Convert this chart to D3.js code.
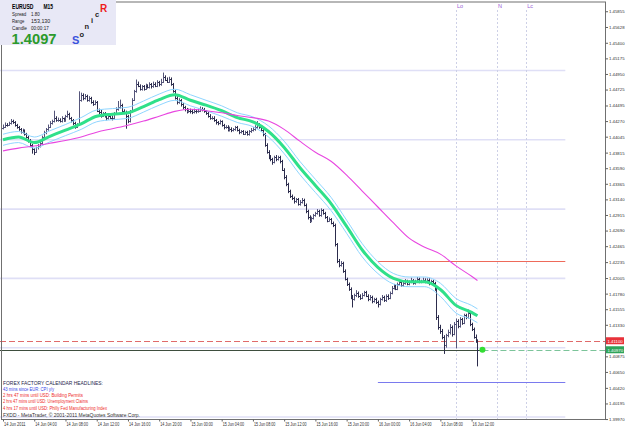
<!DOCTYPE html>
<html>
<head>
<meta charset="utf-8">
<script src="https://cdn.jsdelivr.net/npm/d3@7"></script>
<style>
  body { margin: 0; background: #fff; }
  svg { display: block; }
  text { font-family: "Liberation Sans", Arial, sans-serif; }
</style>
</head>
<body>
<svg id="chart" width="625" height="429"></svg>
<script>
/////////////////////////////////////////////////////////////////////////////////////
// Data (EURUSD M15, first bar 14 Jun 2011 00:00)
var firstBar = "2011-06-14 00:00";
var firstOpen = 1.4417;
var close = [
  1.4419,1.4422,1.4421,1.4424, 1.4427,1.4425,1.4421,1.4418, 1.4415,1.4411,1.4414,1.4408, 1.4404,1.4399,1.4392,1.4386,
  1.4383,1.4389,1.4391,1.4395, 1.4404,1.4411,1.4415,1.4419, 1.4424,1.4427,1.4432,1.4428, 1.4429,1.4427,1.4431,1.4428,
  1.4434,1.4437,1.4431,1.4428, 1.4424,1.4419,1.4422,1.4458, 1.4464,1.4460,1.4463,1.4457, 1.4460,1.4455,1.4452,1.4454,
  1.4442,1.4440,1.4435,1.4438, 1.4434,1.4431,1.4435,1.4432, 1.4431,1.4438,1.4444,1.4447, 1.4450,1.4442,1.4440,1.4434,
  1.4427,1.4441,1.4458,1.4470, 1.4481,1.4478,1.4473,1.4477, 1.4474,1.4478,1.4476,1.4480, 1.4477,1.4481,1.4478,1.4483,
  1.4480,1.4484,1.4491,1.4487, 1.4484,1.4488,1.4480,1.4470, 1.4461,1.4454,1.4457,1.4451, 1.4447,1.4444,1.4441,1.4442,
  1.4441,1.4440,1.4442,1.4441, 1.4442,1.4445,1.4444,1.4441, 1.4438,1.4435,1.4431,1.4432, 1.4428,1.4425,1.4424,1.4427,
  1.4421,1.4418,1.4419,1.4415, 1.4416,1.4414,1.4415,1.4418, 1.4414,1.4411,1.4412,1.4409, 1.4411,1.4408,1.4412,1.4414,
  1.4415,1.4418,1.4422,1.4418, 1.4414,1.4408,1.4393,1.4383, 1.4375,1.4372,1.4368,1.4375, 1.4372,1.4375,1.4369,1.4357,
  1.4346,1.4336,1.4326,1.4319, 1.4316,1.4311,1.4314,1.4307, 1.4310,1.4313,1.4306,1.4297, 1.4288,1.4283,1.4287,1.4291,
  1.4294,1.4297,1.4291,1.4298, 1.4294,1.4288,1.4283,1.4285, 1.4280,1.4277,1.4249,1.4225, 1.4219,1.4222,1.4211,1.4199,
  1.4192,1.4185,1.4173,1.4170, 1.4176,1.4179,1.4175,1.4172, 1.4176,1.4180,1.4175,1.4170, 1.4173,1.4167,1.4170,1.4166,
  1.4163,1.4170,1.4173,1.4169, 1.4175,1.4172,1.4179,1.4186, 1.4189,1.4185,1.4192,1.4195, 1.4190,1.4193,1.4196,1.4192,
  1.4195,1.4198,1.4193,1.4196, 1.4199,1.4195,1.4196,1.4198, 1.4195,1.4198,1.4193,1.4196, 1.4193,1.4185,1.4144,1.4130,
  1.4124,1.4116,1.4104,1.4118, 1.4123,1.4130,1.4120,1.4134, 1.4139,1.4131,1.4141,1.4136, 1.4147,1.4144,1.4150,1.4134,
  1.4127,1.4116,1.4110,1.4097
];
var high = [
  1.4422,1.4425,1.4424,1.4426, 1.4430,1.4429,1.4427,1.4423, 1.4420,1.4417,1.4416,1.4415, 1.4410,1.4406,1.4401,1.4394,
  1.4388,1.4390,1.4394,1.4397, 1.4406,1.4413,1.4417,1.4422, 1.4427,1.4429,1.4442,1.4434, 1.4432,1.4431,1.4434,1.4432,
  1.4436,1.4442,1.4439,1.4433, 1.4430,1.4426,1.4424,1.4470, 1.4468,1.4467,1.4466,1.4465, 1.4463,1.4462,1.4457,1.4457,
  1.4456,1.4445,1.4443,1.4440, 1.4440,1.4436,1.4437,1.4437, 1.4435,1.4440,1.4447,1.4456, 1.4458,1.4452,1.4444,1.4442,
  1.4436,1.4443,1.4460,1.4472, 1.4487,1.4484,1.4480,1.4479, 1.4479,1.4481,1.4480,1.4483, 1.4482,1.4484,1.4483,1.4486,
  1.4485,1.4488,1.4497,1.4493, 1.4490,1.4491,1.4490,1.4482, 1.4472,1.4463,1.4460,1.4459, 1.4453,1.4449,1.4446,1.4445,
  1.4445,1.4444,1.4445,1.4444, 1.4445,1.4448,1.4447,1.4446, 1.4443,1.4440,1.4437,1.4434, 1.4434,1.4430,1.4427,1.4429,
  1.4428,1.4423,1.4421,1.4421, 1.4419,1.4418,1.4417,1.4420, 1.4420,1.4416,1.4414,1.4414, 1.4413,1.4413,1.4414,1.4417,
  1.4418,1.4421,1.4427,1.4424, 1.4420,1.4416,1.4410,1.4395, 1.4385,1.4378,1.4374,1.4377, 1.4378,1.4377,1.4377,1.4371,
  1.4359,1.4349,1.4338,1.4328, 1.4321,1.4318,1.4316,1.4316, 1.4313,1.4316,1.4315,1.4308, 1.4299,1.4291,1.4289,1.4293,
  1.4296,1.4300,1.4299,1.4301, 1.4300,1.4296,1.4290,1.4288, 1.4287,1.4282,1.4279,1.4251, 1.4228,1.4225,1.4224,1.4213,
  1.4201,1.4194,1.4187,1.4176, 1.4178,1.4183,1.4181,1.4177, 1.4179,1.4182,1.4182,1.4177, 1.4176,1.4175,1.4172,1.4172,
  1.4168,1.4172,1.4176,1.4175, 1.4177,1.4177,1.4181,1.4189, 1.4192,1.4191,1.4194,1.4198, 1.4197,1.4195,1.4199,1.4198,
  1.4197,1.4201,1.4199,1.4198, 1.4202,1.4201,1.4198,1.4201, 1.4200,1.4200,1.4200,1.4198, 1.4198,1.4195,1.4187,1.4147,
  1.4133,1.4127,1.4118,1.4120, 1.4126,1.4134,1.4132,1.4137, 1.4142,1.4141,1.4144,1.4143, 1.4149,1.4149,1.4155,1.4152,
  1.4136,1.4129,1.4119,1.4112
];
var low = [
  1.4415,1.4417,1.4419,1.4420, 1.4422,1.4423,1.4419,1.4416, 1.4413,1.4409,1.4409,1.4406, 1.4402,1.4396,1.4390,1.4380,
  1.4378,1.4381,1.4386,1.4389, 1.4393,1.4402,1.4408,1.4413, 1.4417,1.4422,1.4425,1.4426, 1.4426,1.4425,1.4425,1.4426,
  1.4426,1.4432,1.4429,1.4425, 1.4421,1.4416,1.4417,1.4420, 1.4455,1.4457,1.4458,1.4455, 1.4455,1.4452,1.4449,1.4450,
  1.4440,1.4437,1.4432,1.4433, 1.4432,1.4428,1.4429,1.4430, 1.4428,1.4429,1.4436,1.4442, 1.4445,1.4440,1.4437,1.4416,
  1.4424,1.4425,1.4439,1.4456, 1.4468,1.4476,1.4471,1.4471, 1.4471,1.4472,1.4474,1.4474, 1.4474,1.4475,1.4476,1.4476,
  1.4477,1.4478,1.4482,1.4485, 1.4482,1.4482,1.4478,1.4468, 1.4458,1.4451,1.4452,1.4448, 1.4444,1.4441,1.4438,1.4439,
  1.4438,1.4437,1.4438,1.4438, 1.4439,1.4440,1.4441,1.4439, 1.4436,1.4432,1.4429,1.4429, 1.4426,1.4422,1.4421,1.4422,
  1.4419,1.4415,1.4416,1.4412, 1.4412,1.4411,1.4412,1.4413, 1.4412,1.4408,1.4409,1.4407, 1.4407,1.4406,1.4406,1.4410,
  1.4412,1.4413,1.4416,1.4416, 1.4412,1.4405,1.4390,1.4380, 1.4372,1.4369,1.4364,1.4366, 1.4369,1.4370,1.4366,1.4355,
  1.4343,1.4333,1.4323,1.4316, 1.4313,1.4308,1.4309,1.4305, 1.4305,1.4308,1.4304,1.4294, 1.4285,1.4280,1.4281,1.4285,
  1.4289,1.4292,1.4289,1.4289, 1.4292,1.4286,1.4281,1.4282, 1.4278,1.4274,1.4246,1.4222, 1.4216,1.4217,1.4208,1.4197,
  1.4189,1.4182,1.4170,1.4158, 1.4168,1.4173,1.4172,1.4169, 1.4170,1.4174,1.4173,1.4167, 1.4168,1.4164,1.4165,1.4163,
  1.4158,1.4161,1.4168,1.4166, 1.4166,1.4169,1.4170,1.4177, 1.4184,1.4183,1.4183,1.4190, 1.4188,1.4188,1.4191,1.4190,
  1.4190,1.4193,1.4191,1.4191, 1.4194,1.4193,1.4193,1.4194, 1.4193,1.4193,1.4190,1.4191, 1.4191,1.4182,1.4140,1.4126,
  1.4120,1.4112,1.4091,1.4100, 1.4115,1.4119,1.4116,1.4118, 1.4099,1.4128,1.4129,1.4133, 1.4134,1.4141,1.4142,1.4131,
  1.4124,1.4113,1.4107,1.4073
];

// Sonic R lines, read every 8 bars (plus the last bar)
var emaBars = [0,8,16,24,32,40,48,56,64,72,80,88,96,104,112,120,128,136,144,152,160,168,176,184,192,200,208,216,224,232,240,243];
var emaClose = [1.4400,1.4404,1.4396,1.4405,1.4414,1.4423,1.4434,1.4437,1.4439,1.4448,1.4458,1.4465,1.4457,1.4450,1.4442,1.4432,
                1.4426,1.4412,1.4389,1.4360,1.4334,1.4308,1.4275,1.4241,1.4216,1.4200,1.4195,1.4195,1.4184,1.4161,1.4151,1.4146];
var emaHigh  = [1.4408,1.4412,1.4404,1.4413,1.4422,1.4432,1.4443,1.4445,1.4447,1.4456,1.4466,1.4473,1.4465,1.4457,1.4449,1.4439,
                1.4433,1.4420,1.4398,1.4369,1.4343,1.4317,1.4284,1.4250,1.4224,1.4207,1.4202,1.4202,1.4193,1.4171,1.4161,1.4156];
var emaLow   = [1.4392,1.4396,1.4388,1.4397,1.4406,1.4415,1.4426,1.4429,1.4431,1.4440,1.4450,1.4457,1.4449,1.4442,1.4434,1.4425,
                1.4419,1.4404,1.4380,1.4350,1.4324,1.4298,1.4265,1.4231,1.4207,1.4192,1.4188,1.4188,1.4174,1.4150,1.4141,1.4136];
var ema89    = [1.4384,1.4388,1.4391,1.4395,1.4399,1.4404,1.4411,1.4416,1.4421,1.4427,1.4434,1.4441,1.4444,1.4442,1.4439,1.4435,
                1.4432,1.4427,1.4415,1.4398,1.4382,1.4369,1.4349,1.4326,1.4303,1.4280,1.4258,1.4245,1.4235,1.4218,1.4203,1.4197];

// Levels and markers
var roundLevels = [1.45, 1.44, 1.43, 1.42, 1.41, 1.40];
var dayHigh = 1.4225, dayLow = 1.4050;
var alertPrice = 1.4110, bidPrice = 1.4097;
var eventTimes = ["2011-06-16 10:00", "2011-06-16 15:15", "2011-06-16 19:00"];
var eventLabels = ["Lo", "N", "Lc"];

// Axis labels
var priceTicks = [1.45855,1.45628,1.45400,1.45175,1.44950,1.44725,1.44495,1.44270,1.44045,1.43815,1.43590,1.43365,1.43140,
                  1.42915,1.42690,1.42465,1.42235,1.42005,1.41780,1.41555,1.41330,1.40875,1.40650,1.40420,1.40195,1.39970];
var timeTicks = ["2011-06-14 00:00","2011-06-14 04:00","2011-06-14 08:00","2011-06-14 12:00","2011-06-14 16:00","2011-06-14 20:00",
                 "2011-06-15 00:00","2011-06-15 04:00","2011-06-15 08:00","2011-06-15 12:00","2011-06-15 16:00","2011-06-15 20:00",
                 "2011-06-16 00:00","2011-06-16 04:00","2011-06-16 08:00","2011-06-16 12:00"];

var infoRows = [["Spread", "1.80"], ["Range", "153,130"], ["Candle", "00:00:17"]];
var calendarLines = ["43 mins since EUR: CPI y/y",
                     "2 hrs 47 mins until USD: Building Permits",
                     "2 hrs 47 mins until USD: Unemployment Claims",
                     "4 hrs 17 mins until USD: Philly Fed Manufacturing Index"];
var calendarColors = ["#3846e8", "#ee2a2a", "#ee2a2a", "#ee2a2a"];

/////////////////////////////////////////////////////////////////////////////////////
// Scales
var svg = d3.select("#chart");
var parseT = d3.utcParse("%Y-%m-%d %H:%M");
var t0 = parseT(firstBar);
function barTime(i) { return new Date(+t0 + i * 15 * 60000); }

var plot = {left: 1.5, right: 605.5, top: 2, bottom: 419.5};
var xScale = d3.scaleUtc()
               .domain([parseT("2011-06-14 00:00"), parseT("2011-06-16 12:00")])
               .range([3, 471.6]);
var yScale = d3.scaleLinear()
               .domain([1.399, 1.46])
               .range([423.9, 1.2]);

var bars = close.map(function(c, i) {
  return {t: barTime(i), o: i ? close[i - 1] : firstOpen, h: high[i], l: low[i], c: c};
});
var lastBar = bars[bars.length - 1];
var lastX = xScale(lastBar.t);
var endOfDay = xScale(parseT("2011-06-17 00:00"));
var dayStart = xScale(parseT("2011-06-16 00:00"));

/////////////////////////////////////////////////////////////////////////////////////
// Background lines
svg.selectAll(".level")
   .data(roundLevels)
   .enter()
   .append("line")
   .attr("class", "level")
   .attr("x1", 0).attr("x2", endOfDay)
   .attr("y1", function(d) { return yScale(d); })
   .attr("y2", function(d) { return yScale(d); })
   .style("stroke", "#dfdff6")
   .style("stroke-width", 1.6);

svg.selectAll(".event")
   .data(eventTimes)
   .enter()
   .append("line")
   .attr("x1", function(d) { return Math.round(xScale(parseT(d))) + 0.5; })
   .attr("x2", function(d) { return Math.round(xScale(parseT(d))) + 0.5; })
   .attr("y1", 10).attr("y2", plot.bottom)
   .style("stroke", "#cdd0e6")
   .style("stroke-dasharray", "2,2");

svg.selectAll(".eventLabel")
   .data(eventTimes)
   .enter()
   .append("text")
   .attr("x", function(d) { return xScale(parseT(d)) + 1; })
   .attr("y", 8)
   .style("font-size", "5.5px")
   .style("fill", "#9a5ad6")
   .text(function(d, i) { return eventLabels[i]; });

// day range lines
[[dayHigh, "#ee6a5a"], [dayLow, "#7a7aee"]].forEach(function(p) {
  svg.append("line")
     .attr("x1", dayStart).attr("x2", endOfDay)
     .attr("y1", Math.round(yScale(p[0])) + 0.5).attr("y2", Math.round(yScale(p[0])) + 0.5)
     .style("stroke", p[1]);
});

// alert + bid lines
svg.append("line")
   .attr("x1", 0).attr("x2", plot.right)
   .attr("y1", Math.round(yScale(alertPrice)) + 0.5).attr("y2", Math.round(yScale(alertPrice)) + 0.5)
   .style("stroke", "#e06a6a").style("stroke-dasharray", "6,3");
svg.append("line")
   .attr("x1", 0).attr("x2", lastX + 5)
   .attr("y1", Math.round(yScale(bidPrice)) + 0.5).attr("y2", Math.round(yScale(bidPrice)) + 0.5)
   .style("stroke", "#3e4e3e");
svg.append("line")
   .attr("x1", lastX + 5).attr("x2", plot.right)
   .attr("y1", Math.round(yScale(bidPrice)) + 0.5).attr("y2", Math.round(yScale(bidPrice)) + 0.5)
   .style("stroke", "#7cc49a").style("stroke-dasharray", "6,3");

/////////////////////////////////////////////////////////////////////////////////////
// Bars
svg.selectAll(".bar")
   .data(bars)
   .enter()
   .append("path")
   .attr("class", "bar")
   .attr("d", function(d) {
     var x = Math.round(xScale(d.t)) + 0.5;
     var yo = Math.round(yScale(d.o)) + 0.5, yc = Math.round(yScale(d.c)) + 0.5;
     return "M" + x + "," + yScale(d.h) + "V" + yScale(d.l) +
            "M" + (x - 1.5) + "," + yo + "H" + x +
            "M" + x + "," + yc + "H" + (x + 1.5);
   })
   .style("fill", "none")
   .style("stroke", function(d) { return d.c >= d.o ? "#55557a" : "#2c2c4c"; })
   .style("stroke-width", 1);

/////////////////////////////////////////////////////////////////////////////////////
// Sonic R lines
function emaLine(values) {
  return d3.line()
           .x(function(d, i) { return xScale(barTime(emaBars[i])); })
           .y(function(d) { return yScale(d); })
           .curve(d3.curveMonotoneX)(values);
}
svg.append("path").attr("d", emaLine(emaHigh)).style("fill", "none").style("stroke", "#8fd6ff").style("stroke-width", 1);
svg.append("path").attr("d", emaLine(emaLow)).style("fill", "none").style("stroke", "#8fd6ff").style("stroke-width", 1);
svg.append("path").attr("d", emaLine(emaClose)).style("fill", "none").style("stroke", "#2fe08a").style("stroke-width", 3);
svg.append("path").attr("d", emaLine(ema89)).style("fill", "none").style("stroke", "#e846e0").style("stroke-width", 1.1);

// last price dot
svg.append("circle")
   .attr("cx", lastX + 5).attr("cy", yScale(bidPrice))
   .attr("r", 3)
   .style("fill", "#33dd33");

/////////////////////////////////////////////////////////////////////////////////////
// Frame and axes
svg.append("rect")
   .attr("x", plot.left).attr("y", plot.top)
   .attr("width", plot.right - plot.left).attr("height", plot.bottom - plot.top)
   .style("fill", "none").style("stroke", "#707070");

var yAxis = svg.append("g")
   .attr("transform", "translate(" + plot.right + ",0)")
   .call(d3.axisRight(yScale).tickValues(priceTicks).tickFormat(d3.format(".5f")).tickSize(2.5).tickPadding(1));
yAxis.select(".domain").remove();
yAxis.selectAll("line").style("stroke", "#606060");
yAxis.selectAll("text")
     .style("font-size", "4.3px").style("font-family", "Liberation Sans, Arial, sans-serif").style("fill", "#303030");

var fmtFirst = d3.utcFormat("%d %b %Y"), fmtTick = d3.utcFormat("%d %b %H:%M");
var xAxis = svg.append("g")
   .attr("transform", "translate(0," + plot.bottom + ")")
   .call(d3.axisBottom(xScale)
           .tickValues(timeTicks.map(parseT))
           .tickFormat(function(d, i) { return i === 0 ? fmtFirst(d) : fmtTick(d); })
           .tickSize(2).tickPadding(1));
xAxis.select(".domain").remove();
xAxis.selectAll("line").style("stroke", "#606060");
xAxis.selectAll("text")
     .attr("text-anchor", "start").attr("x", 0.5)
     .attr("textLength", 21.5).attr("lengthAdjust", "spacingAndGlyphs")
     .style("font-size", "5.5px").style("font-family", "Liberation Sans, Arial, sans-serif").style("fill", "#303030");

// price tags on the axis
[[alertPrice, "#e8323a", "1.41100"], [bidPrice, "#2ea45a", "1.40970"]].forEach(function(p) {
  var y = yScale(p[0]);
  svg.append("rect").attr("x", plot.right + 0.5).attr("y", y - 3.5).attr("width", 18).attr("height", 7).style("fill", p[1]);
  svg.append("text").attr("x", plot.right + 2).attr("y", y + 1.8)
     .style("font-size", "4.3px").style("fill", "#fff").text(p[2]);
});

/////////////////////////////////////////////////////////////////////////////////////
// Info panel
svg.append("rect").attr("x", 0).attr("y", 0).attr("width", 116).attr("height", 45).style("fill", "#e8e8f6");
svg.append("text").attr("x", 12).attr("y", 8.5).attr("textLength", 21.5).attr("lengthAdjust", "spacingAndGlyphs")
   .style("font-size", "7px").style("font-weight", "bold").text("EURUSD");
svg.append("text").attr("x", 43.5).attr("y", 8.5).attr("textLength", 9.5).attr("lengthAdjust", "spacingAndGlyphs")
   .style("font-size", "7px").style("font-weight", "bold").text("M15");
var infoLabelW = [14.3, 12.3, 15], infoValueW = [8.7, 19.3, 17.7];
infoRows.forEach(function(r, i) {
  svg.append("text").attr("x", 12).attr("y", 16 + i * 7)
     .attr("textLength", infoLabelW[i]).attr("lengthAdjust", "spacingAndGlyphs")
     .style("font-size", "6px").style("fill", "#202020").text(r[0]);
  svg.append("text").attr("x", 31).attr("y", 16 + i * 7)
     .attr("textLength", infoValueW[i]).attr("lengthAdjust", "spacingAndGlyphs")
     .style("font-size", "6px").style("fill", "#202020").text(r[1]);
});
svg.append("text").attr("x", 11.5).attr("y", 43.5).attr("textLength", 45).attr("lengthAdjust", "spacingAndGlyphs")
   .style("font-size", "14px").style("font-weight", "bold").style("fill", "#2c9a2c").text("1.4097");

var sonicLetters = [["S", 72, 43.5, "#3a52dc", 11], ["o", 79.5, 37, "#222", 7.5], ["n", 84.5, 28.5, "#222", 7.5],
                    ["i", 91, 23, "#222", 7.5], ["c", 95, 17, "#222", 7.5], ["R", 100, 12, "#ee1c1c", 10]];
sonicLetters.forEach(function(s) {
  svg.append("text").attr("x", s[1]).attr("y", s[2])
     .style("font-size", s[4] + "px").style("font-weight", "bold").style("fill", s[3]).text(s[0]);
});

/////////////////////////////////////////////////////////////////////////////////////
// Calendar headlines
svg.append("text").attr("x", 3).attr("y", 384.5).attr("textLength", 100).attr("lengthAdjust", "spacingAndGlyphs")
   .style("font-size", "5.5px").style("fill", "#23234a").text("FOREX FACTORY CALENDAR HEADLINES:");
var calWidths = [51, 80, 85, 104];
calendarLines.forEach(function(t, i) {
  svg.append("text").attr("x", 3).attr("y", 391 + i * 6.2)
     .attr("textLength", calWidths[i]).attr("lengthAdjust", "spacingAndGlyphs")
     .style("font-size", "5.5px").style("fill", calendarColors[i]).text(t);
});
svg.append("text").attr("x", 3).attr("y", 417).attr("textLength", 137).attr("lengthAdjust", "spacingAndGlyphs")
   .style("font-size", "5.5px").style("fill", "#333").text("FXDD - MetaTrader, \u00a9 2001-2011 MetaQuotes Software Corp.");
</script>
</body>
</html>
